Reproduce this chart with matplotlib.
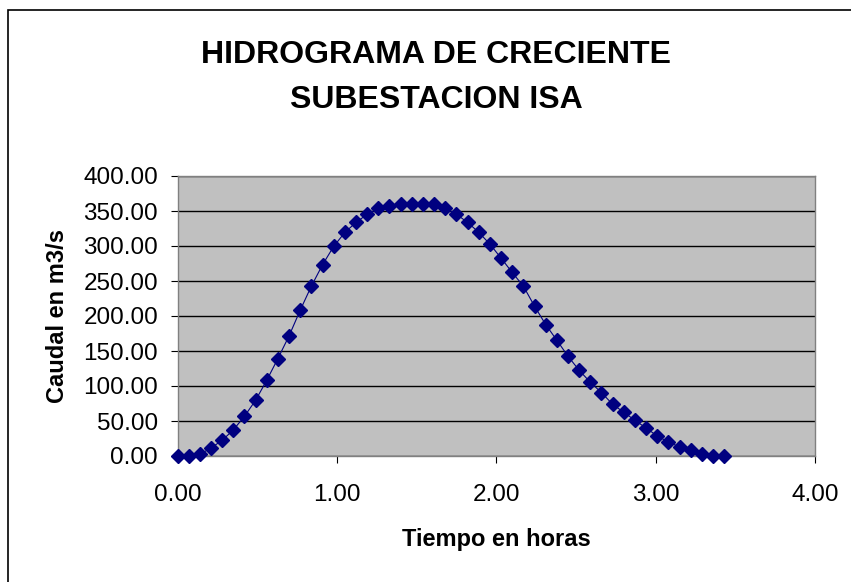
import numpy as np
import matplotlib
matplotlib.use("Agg")
import matplotlib.pyplot as plt
from matplotlib.patches import Rectangle

plt.rcParams['font.family'] = ['Liberation Sans', 'DejaVu Sans']

# tiempo en horas, paso de 0.07 h
tiempo = [0.00, 0.07, 0.14, 0.21, 0.28, 0.35, 0.42, 0.49, 0.56, 0.63,
          0.70, 0.77, 0.84, 0.91, 0.98, 1.05, 1.12, 1.19, 1.26, 1.33,
          1.40, 1.47, 1.54, 1.61, 1.68, 1.75, 1.82, 1.89, 1.96, 2.03,
          2.10, 2.17, 2.24, 2.31, 2.38, 2.45, 2.52, 2.59, 2.66, 2.73,
          2.80, 2.87, 2.94, 3.01, 3.08, 3.15, 3.22, 3.29, 3.36, 3.43]
caudal = [0.0, 0.0, 2.4, 11.4, 22.4, 37.2, 56.7, 79.6, 108.2, 139.2,
          171.6, 208.3, 242.7, 273.2, 299.4, 319.4, 333.7, 345.2, 353.8, 357.6,
          360.4, 360.4, 360.4, 360.4, 354.2, 345.4, 333.7, 319.6, 302.7, 282.8,
          262.2, 242.7, 214.1, 187.8, 165.4, 142.6, 122.5, 105.4, 90.6, 73.9,
          62.5, 51.0, 40.0, 28.6, 20.0, 12.9, 8.1, 2.4, 0.0, 0.0]

titulo = ["HIDROGRAMA DE CRECIENTE", "SUBESTACION ISA"]
xticks = [0.0, 1.0, 2.0, 3.0, 4.0]
yticks = [0, 50, 100, 150, 200, 250, 300, 350, 400]

W, H = 851, 582
fig = plt.figure(figsize=(W/100, H/100), dpi=100)
fig.patch.set_facecolor('white')

# borde del area del grafico
fig.patches.append(Rectangle((8/W, -0.1), 1.2, 1 - 10/H + 0.1, transform=fig.transFigure,
                             fill=False, edgecolor='black', linewidth=1.2))

ax = fig.add_axes([177.5/W, 1 - 456/H, (815 - 177.5)/W, (456 - 176)/H])
ax.set_facecolor('#C0C0C0')
ax.set_xlim(0, 4)
ax.set_ylim(0, 400)
ax.set_yticks(yticks)
ax.set_xticks(xticks)
ax.set_yticklabels(["%.2f" % v for v in yticks])
ax.set_xticklabels(["%.2f" % v for v in xticks])
ax.yaxis.grid(True, color='black', linewidth=1)
ax.set_axisbelow(True)
for s in ax.spines.values():
    s.set_color('#808080')
    s.set_linewidth(1)
ax.tick_params(axis='both', direction='out', length=5, width=0.8, color='black',
               labelsize=17.5)
ax.tick_params(axis='y', pad=9)
ax.tick_params(axis='x', pad=15)

ax.plot(tiempo, caudal, color='#000080', linewidth=0.8, marker='D', markersize=7,
        markerfacecolor='#000080', markeredgecolor='#000080', clip_on=False, zorder=3)

ax.set_xlabel("Tiempo en horas", fontsize=17, fontweight='bold', labelpad=16)
ax.set_ylabel("Caudal en m3/s", fontsize=17, fontweight='bold', labelpad=10)

fig.text(436/W, 1 - 63/H, titulo[0], ha='center', va='baseline', fontsize=23, fontweight='bold')
fig.text(436/W, 1 - 108/H, titulo[1], ha='center', va='baseline', fontsize=23, fontweight='bold')

fig.savefig("out.png", dpi=100)
